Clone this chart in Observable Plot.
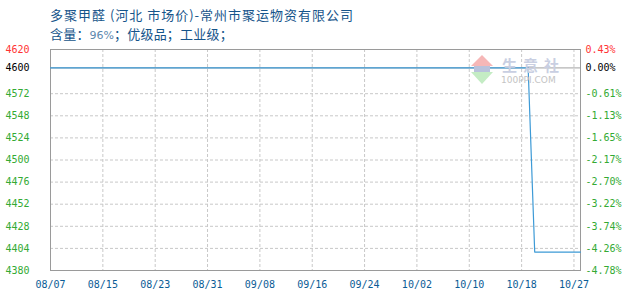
<!DOCTYPE html>
<html>
<head>
<meta charset="utf-8">
<script src="https://cdn.jsdelivr.net/npm/d3@7"></script>
<script src="https://cdn.jsdelivr.net/npm/@observablehq/plot@0.6"></script>
<style>
  html, body { margin: 0; padding: 0; background: #fff; }
  #wrap { position: relative; width: 630px; height: 300px; overflow: hidden; }
  #wrap svg { position: absolute; left: 0; top: 0; }
  .ttl { position: absolute; left: 50px; white-space: pre; font-family: "Noto Sans CJK SC", sans-serif;
         font-size: 13px; color: #15548a; line-height: 1; }
  #title { top: 8px; letter-spacing: 1px; }
  #subtitle { top: 27px; letter-spacing: 0.2px; }
  #subtitle .num { color: #5c88ad; font-family: "DejaVu Sans", sans-serif; font-size: 11px; letter-spacing: 0; }
  .wm { position: absolute; pointer-events: none; }
</style>
</head>
<body>
<div id="wrap">
  <div class="ttl" id="title"></div>
  <div class="ttl" id="subtitle"></div>
</div>
<script>
// Price series (daily quote, CNY/ton)
const dates  = ["2023-08-07", "2023-10-19", "2023-10-20", "2023-10-27"];
const prices = [4600, 4600, 4400, 4400];

// Axis ticks
const basePrice = 4600;
const yTicks = [4380, 4404, 4428, 4452, 4476, 4500, 4524, 4548, 4572, 4600, 4620];
const pctLabels = ["-4.78%", "-4.26%", "-3.74%", "-3.22%", "-2.70%", "-2.17%", "-1.65%", "-1.13%", "-0.61%", "0.00%", "0.43%"];
const xTickDates = ["2023-08-07", "2023-08-15", "2023-08-23", "2023-08-31", "2023-09-08", "2023-09-16",
                    "2023-09-24", "2023-10-02", "2023-10-10", "2023-10-18", "2023-10-26"];
const xTickLabels = ["08/07", "08/15", "08/23", "08/31", "09/08", "09/16", "09/24", "10/02", "10/10", "10/18", "10/27"];

const titleText = "多聚甲醛 (河北 市场价)-常州市聚运物资有限公司";
const subtitleParts = ["含量：", "96%", "；优级品；工业级；"];

document.getElementById("title").textContent = titleText;
const sub = document.getElementById("subtitle");
sub.append(subtitleParts[0]);
const num = document.createElement("span");
num.className = "num";
num.textContent = subtitleParts[1];
sub.append(num, subtitleParts[2]);

const parse = d3.utcParse("%Y-%m-%d");
const series = dates.map((d, i) => ({date: parse(d), price: prices[i]}));
const xTicks = xTickDates.map(parse);

const tickColor = v => v > basePrice ? "#ff3333" : v === basePrice ? "#000000" : "#33aa33";
const mono = "DejaVu Sans Mono, monospace";

const chart = Plot.plot({
  width: 630,
  height: 300,
  marginLeft: 50,
  marginRight: 50,
  marginTop: 49,
  marginBottom: 30,
  x: {type: "utc", domain: [parse("2023-08-07"), parse("2023-10-27")], axis: null},
  y: {domain: [4380, 4620], axis: null},
  marks: [
    // dashed grid
    Plot.ruleY(yTicks.filter(v => v !== basePrice && v !== 4620), {stroke: "#c8c8c8", strokeDasharray: "3,2"}),
    Plot.ruleX(xTicks.slice(1), {stroke: "#c8c8c8", strokeDasharray: "3,2"}),
    // base price reference
    Plot.ruleY([basePrice], {stroke: "#a0a0a0"}),
    Plot.frame({stroke: "#9a9a9a"}),
    // price line
    Plot.line(series, {x: "date", y: "price", stroke: "#3d9ad6", strokeWidth: 1.2}),
    // left price labels
    Plot.text(yTicks, {y: d => d, frameAnchor: "left", textAnchor: "start", dx: -45,
      text: d => String(d), fill: tickColor, fontFamily: mono, fontSize: 10}),
    // right percentage labels
    Plot.text(yTicks, {y: d => d, frameAnchor: "right", textAnchor: "start", dx: 5,
      text: (d, i) => pctLabels[i], fill: tickColor, fontFamily: mono, fontSize: 10}),
    // date labels
    Plot.text(xTicks, {x: d => d, frameAnchor: "bottom", dy: 17,
      text: (d, i) => xTickLabels[i], fill: "#0b5c96", fontFamily: mono, fontSize: 10})
  ]
});

const wrap = document.getElementById("wrap");
wrap.appendChild(chart);

// site watermark
const wm = document.createElementNS("http://www.w3.org/2000/svg", "svg");
wm.setAttribute("width", 100);
wm.setAttribute("height", 40);
wm.setAttribute("class", "wm");
wm.style.left = "470px";
wm.style.top = "54px";
wm.innerHTML = `
  <polygon points="12,1 23,12 1,12" fill="#f6b7b7"/>
  <rect x="4" y="12" width="16" height="6" fill="#b9c2dc"/>
  <polygon points="1,18 23,18 12,30" fill="#c4ecc4"/>
  <text x="32" y="17" font-family="Noto Sans CJK SC" font-size="15" font-weight="bold" fill="#c9cfe2" letter-spacing="6">生意社</text>
  <text x="31" y="29" font-family="DejaVu Sans" font-size="9" fill="#c4c4c4">100PPI.COM</text>`;
wrap.appendChild(wm);
</script>
</body>
</html>
